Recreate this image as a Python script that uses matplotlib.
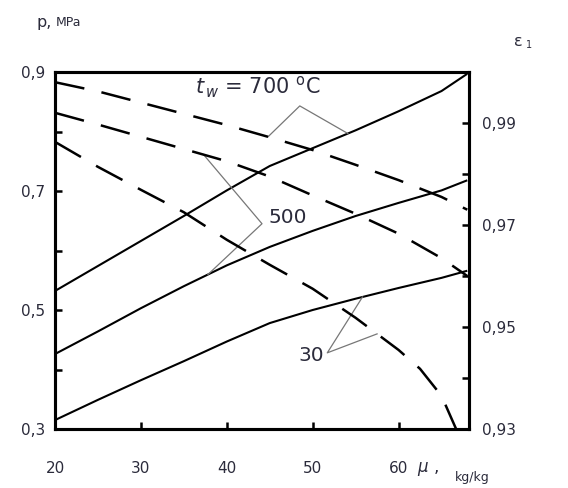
import matplotlib
matplotlib.use("Agg")
import matplotlib.pyplot as plt
import numpy as np

# ---- data ----
mu = [20, 25, 30, 35, 40, 45, 50, 55, 60, 65, 68]

# pressure p, MPa (solid lines, left axis)
p_700 = [0.532, 0.574, 0.616, 0.658, 0.701, 0.742, 0.772, 0.802, 0.834, 0.868, 0.897]
p_500 = [0.426, 0.464, 0.503, 0.540, 0.575, 0.606, 0.633, 0.658, 0.680, 0.701, 0.718]
p_30 = [0.315, 0.349, 0.382, 0.414, 0.447, 0.478, 0.500, 0.519, 0.537, 0.554, 0.566]

# efficiency eps1 (dashed lines, right axis)
e_700 = [0.9980, 0.9962, 0.9940, 0.9918, 0.9896, 0.9872, 0.9847, 0.9818, 0.9788, 0.9755, 0.9730]
e_500 = [0.9920, 0.9897, 0.9873, 0.9849, 0.9825, 0.9795, 0.9758, 0.9722, 0.9683, 0.9635, 0.9600]
mu_e30 = [20, 25, 30, 35, 40, 45, 50, 55, 60, 62.5, 65, 66.7]
e_30 = [0.9863, 0.9814, 0.9769, 0.9725, 0.9671, 0.9622, 0.9575, 0.9518, 0.9455, 0.9418, 0.9365, 0.9300]

x_ticks = [20, 30, 40, 50, 60]
p_ticks = [0.3, 0.4, 0.5, 0.6, 0.7, 0.8, 0.9]
p_labels = ['0,3', '', '0,5', '', '0,7', '', '0,9']
e_ticks = [0.93, 0.94, 0.95, 0.96, 0.97, 0.98, 0.99, 1.00]
e_labels = ['0,93', '', '0,95', '', '0,97', '', '0,99', '']

txt = '#2b2b3b'
P_LO, P_HI = 0.3, 0.9
E_LO, E_HI = 0.93, 1.0


def e_to_p(e):
    return P_LO + (e - E_LO) / (E_HI - E_LO) * (P_HI - P_LO)


fig = plt.figure(figsize=(5.68, 4.88), dpi=100)
ax = fig.add_axes([55 / 568, 1 - 429 / 488, (469 - 55) / 568, (429 - 72) / 488])
ax2 = ax.twinx()

solid = dict(color='black', lw=1.5, solid_capstyle='butt')
ax.plot(mu, p_700, **solid)
ax.plot(mu, p_500, **solid)
ax.plot(mu, p_30, **solid)

dash = dict(color='black', lw=1.8, dashes=(12, 7), dash_capstyle='butt')
ax2.plot(mu, e_700, **dash)
ax2.plot(mu, e_500, **dash)
ax2.plot(mu_e30, e_30, **dash)

ax.set_xlim(20, 68.2)
ax.set_ylim(P_LO, P_HI)
ax2.set_ylim(E_LO, E_HI)

ax.set_xticks(x_ticks)
ax.set_xticklabels([str(v) for v in x_ticks])
ax.set_yticks(p_ticks)
ax.set_yticklabels(p_labels)
ax2.set_yticks(e_ticks)
ax2.set_yticklabels(e_labels)

for a in (ax, ax2):
    for s in a.spines.values():
        s.set_linewidth(2.2)
ax.tick_params(axis='x', direction='in', length=5, width=1.8, pad=23,
               labelsize=11, labelcolor=txt)
ax.tick_params(axis='y', direction='in', length=5, width=1.8, pad=7,
               labelsize=11, labelcolor=txt)
ax2.tick_params(axis='y', direction='in', length=5, width=1.8, pad=9,
                labelsize=11, labelcolor=txt)

# pointer lines from curve labels
grey = dict(color='#777777', lw=0.9)
# 700
a = (48.5, 0.843)
ax.plot([44.8, a[0], 54.1],
        [e_to_p(np.interp(44.8, mu, e_700)), a[1], np.interp(54.1, mu, p_700)], **grey)
# 500
a = (44.1, 0.645)
ax.plot([37.3, a[0], 37.8],
        [e_to_p(np.interp(37.3, mu, e_500)), a[1], np.interp(37.8, mu, p_500)], **grey)
# 30
a = (51.7, 0.428)
ax.plot([55.8, a[0], 57.5],
        [np.interp(55.8, mu, p_30), a[1], e_to_p(np.interp(57.5, mu_e30, e_30))], **grey)

ax.text(36.3, 0.874, r'$t_{\,w}$ = 700 $^{\rm o}$C', fontsize=15, color=txt,
        ha='left', va='center')
ax.text(44.8, 0.655, '500', fontsize=14.5, color=txt, ha='left', va='center')
ax.text(51.3, 0.424, '30', fontsize=14.5, color=txt, ha='right', va='center')

# axis titles
fig.text(36 / 568, 1 - 22 / 488, 'p,', fontsize=11.5, color=txt, va='center')
fig.text(56 / 568, 1 - 23 / 488, 'MPa', fontsize=9, color=txt, va='center')
fig.text(514 / 568, 1 - 42 / 488, r'ε', fontsize=11.5, color=txt, va='center')
fig.text(526 / 568, 1 - 45 / 488, '1', fontsize=7, color=txt, va='center')
fig.text(417 / 568, 1 - 469 / 488, r'$\mu$ ,', fontsize=12, color=txt, va='center')
fig.text(455 / 568, 1 - 477 / 488, 'kg/kg', fontsize=9, color=txt, va='center')

fig.savefig('out.png', dpi=100)
